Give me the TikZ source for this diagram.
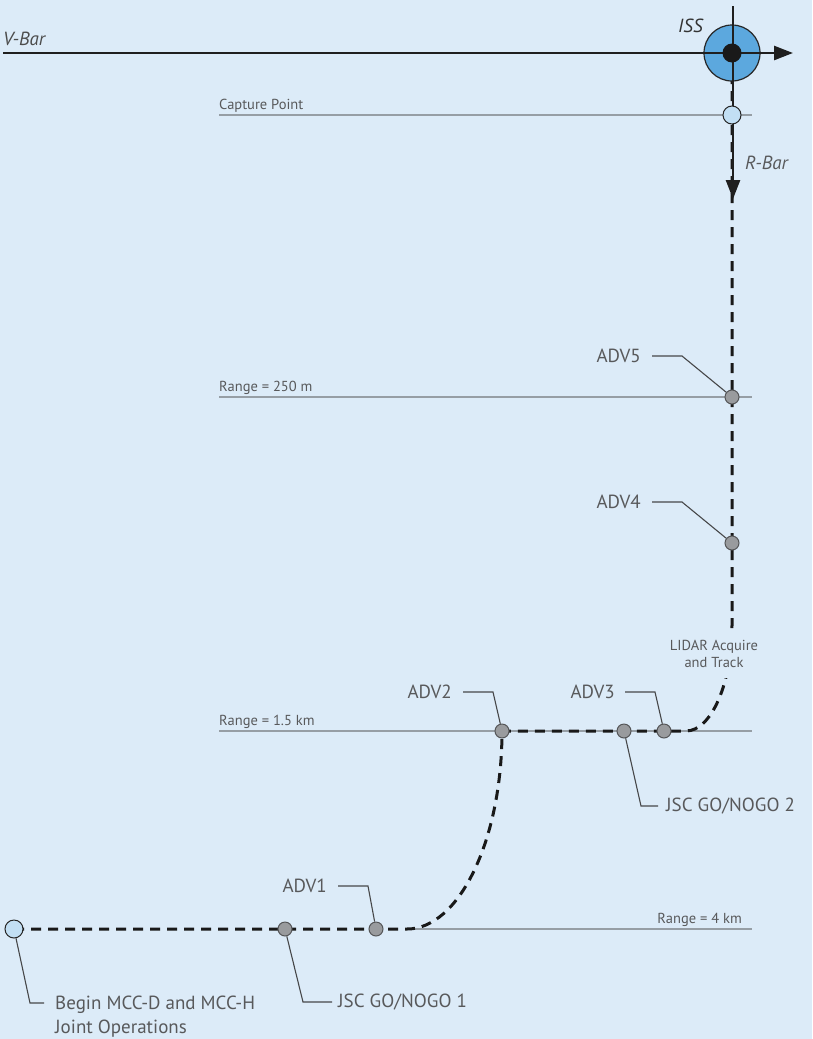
\documentclass[tikz,border=0pt]{standalone}
\usepackage{fontspec}
\setmainfont{PT Sans}
\usepackage{tikz}
\usetikzlibrary{arrows.meta, positioning, calc}
\definecolor{paperBlue}{RGB}{220,235,248}
\definecolor{issBlue}{RGB}{92,168,222}
\definecolor{capFill}{RGB}{194,223,244}
\definecolor{dotFill}{RGB}{153,155,158}
\definecolor{dotEdge}{RGB}{85,86,88}
\definecolor{rangeGray}{RGB}{150,158,165}
\definecolor{tagGray}{RGB}{88,89,91}
\definecolor{leadGray}{RGB}{70,71,73}
\pgfdeclarelayer{paper}
\pgfdeclarelayer{track}
\pgfsetlayers{paper,track,main}

\begin{document}
\begin{tikzpicture}[
    x=1pt, y=-1pt,
    marker/.style={circle, draw=dotEdge, line width=1pt, fill=dotFill, minimum size=14pt, inner sep=0pt},
    waypt/.style={circle, draw=black!85, line width=1pt, fill=capFill, minimum size=18pt, inner sep=0pt},
    tag/.style={font=\fontsize{19}{24}\selectfont, text=tagGray, inner sep=0pt},
    rlbl/.style={font=\fontsize{14.5}{17}\selectfont, text=tagGray, inner sep=0pt},
    axlbl/.style={font=\itshape\fontsize{19}{22}\selectfont, inner sep=0pt, anchor=base west},
    axis/.style={line width=2.6pt, black!88, -{Triangle[length=19pt, width=14pt]}},
    rangeln/.style={line width=1.2pt, draw=rangeGray},
    leader/.style={line width=1.1pt, draw=leadGray},
    approach/.style={line width=3pt, dash pattern=on 10pt off 7pt, black!90}
]
\useasboundingbox (0,0) rectangle (812,1039);
\begin{pgfonlayer}{paper}
\fill[paperBlue] (0,0) rectangle (812,1039);
\end{pgfonlayer}

% --- ISS and the two axes ---
\node[circle, draw=black!85, line width=1.2pt, fill=issBlue, minimum size=56pt, inner sep=0pt] (iss) at (732,53) {};
\coordinate (vstart) at (3,53);
\coordinate (vtip) at (793,53);
\coordinate (rtop) at (733,6);
\coordinate (rtip) at (733,199);
\draw[axis] (vstart) -- (vtip);
\draw[axis] (rtop) -- (rtip);
\node[circle, fill=black!90, minimum size=19pt, inner sep=0pt] (core) at (iss) {};

\node[axlbl, text=black!70] (vbar) at (3,45) {V-Bar};
\node[axlbl, text=black!80] (isslbl) at (678,32) {ISS};
\node[axlbl, text=tagGray] (rbar) at (745,169) {R-Bar};

% --- Points along the approach ---
\node[waypt] (capture) at (732,115) {};
\node[marker] (adv5) at (732,397) {};
\node[marker] (adv4) at (732,543) {};
\node[marker] (adv3) at (664,731) {};
\node[marker] (nogo2) at (624,731) {};
\node[marker] (adv2) at (502,731) {};
\node[marker] (adv1) at (376,929) {};
\node[marker] (nogo1) at (285,929) {};
\node[waypt] (start) at (14,929) {};

% --- Range lines ---
\coordinate (cpA) at (219,115);   \coordinate (cpB) at (752,115);
\coordinate (r250A) at (219,397); \coordinate (r250B) at (752,397);
\coordinate (r15A) at (219,731);  \coordinate (r15B) at (752,731);
\coordinate (r4A) at (407,929);   \coordinate (r4B) at (752,929);

\node[rlbl, anchor=base west] (cplbl) at (219,109) {Capture Point};
\node[rlbl, anchor=base west] (r250lbl) at (219,391) {Range = 250 m};
\node[rlbl, anchor=base west] (r15lbl) at (219,725) {Range = 1.5 km};
\node[rlbl, anchor=base east] (r4lbl) at (742,923) {Range = 4 km};

\node[rlbl, fill=paperBlue, align=center, inner xsep=2pt, inner ysep=10pt] (lidar) at (714,654)
    {LIDAR Acquire\\and Track};

% --- Tags and leaders ---
\node[tag, anchor=east] (t5) at (641,356) {ADV5};
\node[tag, anchor=east] (t4) at (641,502) {ADV4};
\node[tag, anchor=east] (t3) at (615,692) {ADV3};
\node[tag, anchor=east] (t2) at (452,692) {ADV2};
\node[tag, anchor=east] (t1) at (327,886) {ADV1};
\node[tag, anchor=west] (g2) at (666,806) {JSC GO/NOGO 2};
\node[tag, anchor=west] (g1) at (338,1002) {JSC GO/NOGO 1};
\node[tag, anchor=north west, align=left] (begin) at (55,996)
    {Begin MCC-D and MCC-H\\Joint Operations};

\draw[leader] ([xshift=11pt]t5.east) -- ++(30,0) -- (adv5);
\draw[leader] ([xshift=11pt]t4.east) -- ++(30,0) -- (adv4);
\draw[leader] ([xshift=10pt]t3.east) -- ++(30,0) -- (adv3);
\draw[leader] ([xshift=11pt]t2.east) -- ++(30,0) -- (adv2);
\draw[leader] ([xshift=11pt]t1.east) -- ++(30,0) -- (adv1);
\draw[leader] (nogo2) -- ([xshift=-25pt]g2.west) -- ([xshift=-8pt]g2.west);
\draw[leader] (nogo1) -- ([xshift=-35pt]g1.west) -- ([xshift=-6pt]g1.west);
\draw[leader] (start) -- ($(begin.north west)+(-25,7)$) -- ($(begin.north west)+(-11,7)$);

% --- Approach path (under the markers) ---
\coordinate (bend1) at (407,929);
\coordinate (bend2) at (686,731);
\coordinate (turn) at (732,625);
\begin{pgfonlayer}{track}
\draw[rangeln] (cpA) -- (cpB);
\draw[rangeln] (r250A) -- (r250B);
\draw[rangeln] (r15A) -- (r15B);
\draw[rangeln] (r4A) -- (r4B);
\draw[approach] (start.center) -- (nogo1.center) -- (adv1.center) -- (bend1)
    .. controls (459,929) and (502,840) .. (adv2.center) -- (nogo2.center) -- (adv3.center) -- (bend2)
    .. controls (711,731) and (732,684) .. (turn) -- (iss.center);
\end{pgfonlayer}

\end{tikzpicture}
\end{document}
